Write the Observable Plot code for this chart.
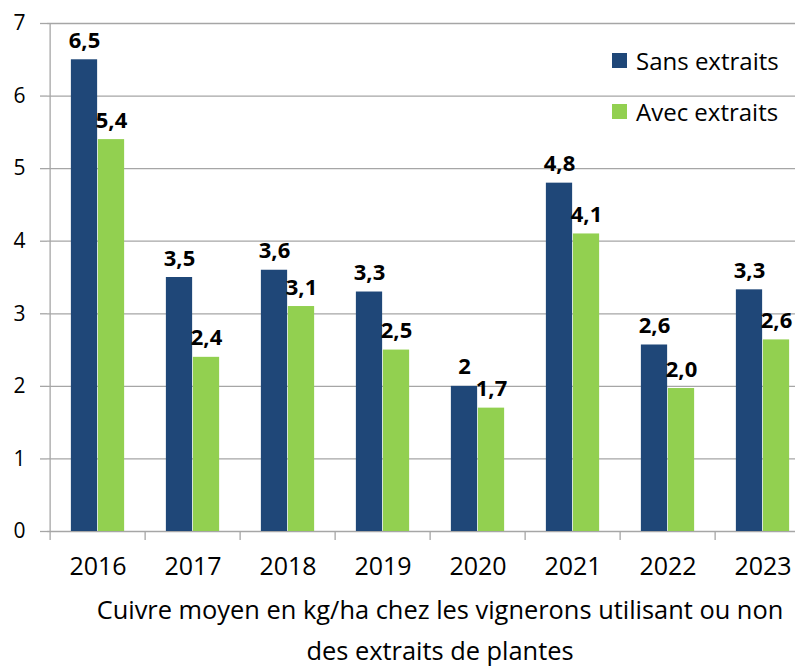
<!DOCTYPE html>
<html>
<head>
<meta charset="utf-8">
<script src="https://cdn.jsdelivr.net/npm/d3@7"></script>
<script src="https://cdn.jsdelivr.net/npm/@observablehq/plot@0.6"></script>
<style>
  html, body { margin: 0; padding: 0; background: #fff; overflow: hidden; }
  body { width: 795px; height: 667px; position: relative; font-family: "Open Sans", "Noto Sans", sans-serif; }
  #chart { position: absolute; left: 0; top: 0; }
  #legend { position: absolute; left: 612px; top: 42px; font-size: 24px; color: #000; }
  #legend .row { display: flex; align-items: center; height: 36px; margin-bottom: 15px; white-space: nowrap; }
  #legend .sw { width: 15px; height: 15px; margin-right: 9px; }
  #caption { position: absolute; left: 0; top: 589px; width: 880px; text-align: center; font-size: 25.4px; line-height: 41px; color: #000; }
</style>
</head>
<body>
<div id="chart"></div>
<div id="legend"></div>
<div id="caption">Cuivre moyen en kg/ha chez les vignerons utilisant ou non<br>des extraits de plantes</div>
<script>
const years = ["2016", "2017", "2018", "2019", "2020", "2021", "2022", "2023"];
const seriesNames = ["Sans extraits", "Avec extraits"];
const sansValues = [6.5, 3.5, 3.6, 3.3, 2.0, 4.8, 2.57, 3.33];
const avecValues = [5.4, 2.4, 3.1, 2.5, 1.7, 4.1, 1.97, 2.64];
const sansLabels = ["6,5", "3,5", "3,6", "3,3", "2", "4,8", "2,6", "3,3"];
const avecLabels = ["5,4", "2,4", "3,1", "2,5", "1,7", "4,1", "2,0", "2,6"];
const yTicks = [0, 1, 2, 3, 4, 5, 6, 7];
const colors = ["#1f4778", "#92d050"];

const W = 795, H = 590, mL = 47, mR = -18, mT = 23, mB = 59;
const step = (W - mL - mR) / years.length;
const bw = 27;
const gap = (step - 2 * bw) / 2;

const sans = years.map((y, i) => ({year: y, value: sansValues[i], label: sansLabels[i]}));
const avec = years.map((y, i) => ({year: y, value: avecValues[i], label: avecLabels[i]}));

const font = "Open Sans, Noto Sans, sans-serif";

const chart = Plot.plot({
  width: W, height: H,
  marginLeft: mL, marginRight: mR, marginTop: mT, marginBottom: mB,
  style: {fontFamily: font, color: "#000", background: "#fff", overflow: "visible"},
  x: {domain: years, padding: 0, axis: null},
  y: {domain: [0, 7], axis: null},
  marks: [
    Plot.gridY(yTicks, {stroke: "#a6a6a6", strokeOpacity: 1, strokeWidth: 1.3}),
    Plot.axisY(yTicks, {tickSize: 7, tickPadding: 15, stroke: "#a6a6a6", strokeWidth: 1.3, fontSize: 21, fill: "#000", label: null, tickFormat: d => String(d)}),
    Plot.ruleX([years[0]], {dx: -step / 2, y1: 0, y2: 7, stroke: "#a6a6a6", strokeWidth: 1.3}),
    Plot.axisX({tickSize: 9, stroke: "#a6a6a6", strokeWidth: 1.3, dx: -step / 2, label: null, tickFormat: () => ""}),
    Plot.axisX({tickSize: 0, tickPadding: 26, fontSize: 25, fill: "#000", label: null}),
    Plot.barY(sans, {x: "year", y: "value", fill: colors[0], insetLeft: gap, insetRight: gap + bw}),
    Plot.barY(avec, {x: "year", y: "value", fill: colors[1], insetLeft: gap + bw, insetRight: gap}),
    Plot.text(sans, {x: "year", y: "value", text: "label", dx: -bw / 2, dy: -19, fontSize: 22, fontWeight: "bold", fill: "#000"}),
    Plot.text(avec, {x: "year", y: "value", text: "label", dx: bw / 2, dy: -19, fontSize: 22, fontWeight: "bold", fill: "#000"})
  ]
});
document.getElementById("chart").appendChild(chart);

const legend = document.getElementById("legend");
seriesNames.forEach((name, i) => {
  const row = document.createElement("div");
  row.className = "row";
  const sw = document.createElement("div");
  sw.className = "sw";
  sw.style.background = colors[i];
  const t = document.createElement("span");
  t.textContent = name;
  row.appendChild(sw);
  row.appendChild(t);
  legend.appendChild(row);
});
</script>
</body>
</html>
